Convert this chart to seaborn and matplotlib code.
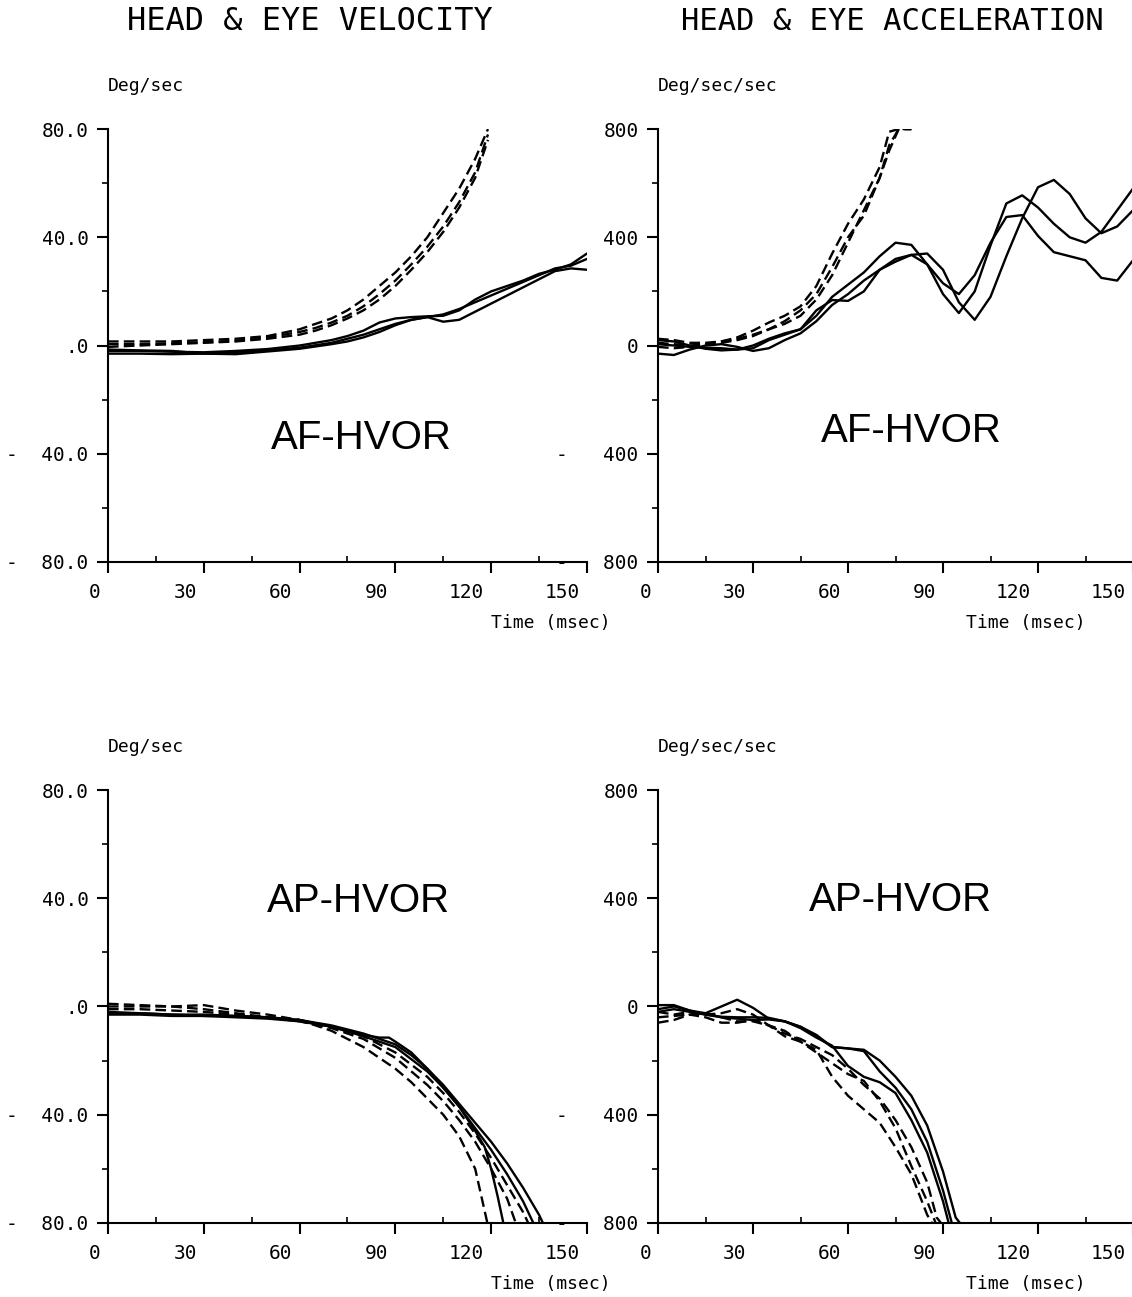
import numpy as np
import pandas as pd
import matplotlib
matplotlib.use("Agg")
import matplotlib.pyplot as plt
import matplotlib.transforms as mtransforms
from matplotlib.ticker import MultipleLocator
import seaborn as sns

# --- data (time in msec) ---
# AF-HVOR velocity (deg/sec)
af_vel_t = [0, 10, 20, 30, 40, 50, 60, 70, 75, 80, 85, 90, 95, 100, 105, 110, 115, 120, 125, 130, 135, 140, 145, 150]
af_vel_s1 = [-2.0, -2.0, -2.3, -2.5, -2.0, -1.3, 0.0, 2.0, 3.5, 5.5, 8.5, 10.0, 10.5, 10.8, 11.0, 13.0, 17.0, 20.0, 22.0, 24.0, 26.5, 28.0, 30.0, 34.0]
af_vel_s2 = [-3.0, -3.0, -3.2, -3.0, -2.6, -1.8, -0.8, 1.0, 2.5, 4.0, 6.0, 8.0, 9.5, 10.5, 11.5, 13.5, 16.0, 18.5, 21.0, 23.5, 26.0, 28.5, 29.5, 32.0]
af_vel_s3 = [-1.5, -1.8, -2.0, -3.0, -3.2, -2.2, -1.2, 0.5, 1.5, 3.0, 5.0, 7.5, 9.5, 10.5, 8.8, 9.5, 12.5, 15.5, 18.5, 21.5, 24.5, 27.5, 28.5, 28.0]
af_vel_dt = [0, 10, 20, 30, 40, 50, 60, 65, 70, 75, 80, 85, 90, 95, 100, 105, 110, 115, 119]
af_vel_d1 = [1.5, 1.5, 1.5, 2.0, 2.5, 3.5, 6.0, 8.0, 10.0, 13.0, 17.0, 22.0, 27.0, 33.0, 40.0, 49.0, 58.0, 69.0, 80.0]
af_vel_d2 = [0.5, 0.5, 0.8, 1.2, 1.8, 3.0, 5.0, 6.5, 8.5, 11.0, 14.5, 19.0, 24.0, 30.0, 36.5, 44.0, 53.0, 64.0, 78.0]
af_vel_d3 = [-0.5, 0.0, 0.5, 1.0, 1.5, 2.5, 4.0, 5.5, 7.5, 10.0, 13.0, 17.0, 22.0, 28.0, 34.5, 42.0, 51.0, 62.0, 76.0]

# AF-HVOR acceleration (deg/sec/sec)
af_acc_t = [0, 5, 10, 15, 20, 25, 30, 35, 40, 45, 50, 55, 60, 65, 70, 75, 80, 85, 90, 95, 100, 105, 110, 115, 120, 125, 130, 135, 140, 145, 150]
af_acc_s1 = [20, 15, 0, -12, -18, -15, 0, 25, 45, 60, 110, 180, 225, 270, 330, 380, 372, 300, 190, 120, 200, 370, 525, 555, 510, 450, 400, 380, 420, 500, 580]
af_acc_s2 = [-30, -35, -15, 0, 5, -5, -20, -10, 20, 45, 90, 150, 190, 240, 280, 310, 335, 340, 280, 160, 95, 180, 330, 470, 585, 612, 560, 470, 415, 440, 500]
af_acc_s3 = [5, 0, -5, -8, -10, -15, -10, 20, 40, 60, 130, 168, 165, 200, 280, 320, 335, 300, 230, 190, 260, 380, 475, 482, 405, 345, 330, 315, 250, 240, 315]
af_acc_dt = [0, 5, 10, 15, 20, 25, 30, 35, 40, 45, 50, 55, 60, 65, 70, 73, 76, 80]
af_acc_d1 = [10, 5, 0, 5, 15, 30, 55, 85, 110, 145, 220, 340, 450, 540, 660, 790, 800, 800]
af_acc_d2 = [-5, -10, -5, 5, 10, 20, 35, 60, 90, 130, 190, 290, 400, 480, 620, 720, 800, 800]
af_acc_d3 = [25, 20, 10, 10, 15, 25, 40, 60, 80, 110, 170, 260, 380, 500, 620, 740, 800, 800]

# AP-HVOR velocity (deg/sec)
ap_vel_t1 = [0, 10, 20, 30, 40, 50, 60, 70, 80, 85, 90, 95, 100, 105, 110, 115, 120, 125, 130, 135, 137]
ap_vel_s1 = [-2.5, -2.5, -3.0, -3.5, -3.5, -4.0, -5.0, -7.0, -10.0, -12.0, -14.0, -18.0, -23.0, -29.0, -36.0, -43.0, -50.0, -58.0, -67.0, -77.0, -82.0]
ap_vel_t2 = [0, 10, 20, 30, 40, 50, 60, 70, 80, 85, 88, 90, 95, 100, 105, 110, 115, 120, 125, 130, 134]
ap_vel_s2 = [-3.0, -3.0, -3.5, -3.5, -4.0, -4.5, -5.5, -7.5, -10.5, -11.5, -11.5, -13.0, -17.0, -23.0, -30.0, -37.0, -45.0, -53.0, -62.0, -72.0, -82.0]
ap_vel_t3 = [0, 10, 20, 30, 40, 50, 60, 70, 80, 90, 100, 105, 110, 115, 118, 120, 122, 124]
ap_vel_s3 = [-2.0, -2.5, -3.0, -3.0, -3.5, -4.0, -5.0, -7.5, -11.0, -15.0, -24.0, -30.0, -37.0, -46.0, -52.0, -60.0, -70.0, -81.0]
ap_vel_dt1 = [0, 10, 20, 30, 40, 50, 60, 70, 80, 85, 90, 95, 100, 105, 110, 115, 119]
ap_vel_d1 = [1.0, 0.5, 0.0, 0.5, -1.5, -3.0, -5.0, -9.0, -15.0, -19.0, -23.0, -28.0, -34.0, -40.0, -48.0, -60.0, -81.0]
ap_vel_dt2 = [0, 10, 20, 30, 40, 50, 60, 70, 80, 90, 95, 100, 105, 110, 115, 120, 125, 128]
ap_vel_d2 = [-1.0, -1.0, -1.5, -2.0, -3.0, -4.0, -5.5, -8.0, -12.0, -19.0, -24.0, -29.0, -35.0, -42.0, -50.0, -60.0, -71.0, -81.0]
ap_vel_dt3 = [0, 10, 20, 30, 40, 50, 60, 70, 80, 90, 100, 105, 110, 115, 120, 125, 130, 132]
ap_vel_d3 = [0.0, 0.0, 0.0, -1.0, -2.5, -4.0, -5.0, -7.5, -11.0, -17.0, -26.0, -32.0, -39.0, -47.0, -56.0, -66.0, -76.0, -81.0]

# AP-HVOR acceleration (deg/sec/sec)
ap_acc_ta = [0, 5, 10, 15, 20, 25, 30, 35, 40, 45, 50, 55, 60, 65, 70, 75, 80, 85, 90, 94, 96]
ap_acc_sa = [-10, 0, -15, -25, 0, 25, -5, -45, -55, -75, -110, -150, -155, -160, -200, -260, -330, -440, -610, -780, -810]
ap_acc_tb = [0, 5, 10, 15, 20, 25, 30, 35, 40, 45, 50, 55, 60, 65, 70, 75, 80, 85, 90, 92]
ap_acc_sb = [5, 5, -15, -30, -40, -45, -50, -48, -55, -80, -115, -145, -220, -260, -280, -320, -420, -540, -720, -810]
ap_acc_tc = [0, 5, 10, 15, 20, 25, 30, 35, 40, 45, 50, 55, 60, 65, 70, 75, 80, 85, 90, 93]
ap_acc_sc = [-20, -10, -20, -30, -38, -40, -40, -42, -55, -75, -105, -150, -155, -165, -240, -300, -380, -500, -680, -810]
ap_acc_dta = [0, 10, 15, 20, 25, 30, 35, 40, 45, 50, 55, 60, 65, 70, 75, 80, 85, 88, 90]
ap_acc_da = [-40, -30, -25, -40, -55, -55, -70, -100, -120, -150, -180, -230, -290, -340, -420, -520, -650, -780, -810]
ap_acc_dtb = [0, 5, 10, 15, 20, 25, 30, 35, 40, 45, 50, 55, 60, 65, 70, 75, 80, 85, 87]
ap_acc_db = [-20, -30, -20, -30, -25, -10, -30, -70, -110, -130, -160, -260, -330, -380, -430, -520, -620, -770, -810]
ap_acc_dtc = [0, 5, 10, 15, 20, 25, 30, 35, 40, 45, 50, 55, 60, 65, 70, 75, 80, 85, 88]
ap_acc_dc = [-60, -50, -30, -40, -60, -60, -50, -70, -90, -130, -170, -210, -250, -275, -350, -450, -590, -720, -810]

time_ticks = [0, 30, 60, 90, 120, 150]
vel_ticks = [-80, -40, 0, 40, 80]
vel_labels = ["-  80.0", "-  40.0", ".0", "40.0", "80.0"]
acc_ticks = [-800, -400, 0, 400, 800]
acc_labels = ["-   800", "-   400", "0", "400", "800"]

# --- figure ---
sns.set_style("ticks")
plt.rcParams["font.family"] = ["DejaVu Sans Mono"]
plt.rcParams.update({"text.color": "black", "xtick.color": "black", "ytick.color": "black",
                     "axes.edgecolor": "black", "axes.labelcolor": "black"})
fig = plt.figure(figsize=(11.32, 12.97), dpi=100)

W = 0.4231
H = 0.3338
panels = {
    "af_vel": fig.add_axes([0.0954, 0.5667, W, H]),
    "af_acc": fig.add_axes([0.5813, 0.5667, 0.4196, H]),
    "ap_vel": fig.add_axes([0.0954, 0.0571, W, H]),
    "ap_acc": fig.add_axes([0.5813, 0.0571, 0.4196, H]),
}

series = {
    "af_vel": [(af_vel_t, af_vel_s1, "-"), (af_vel_t, af_vel_s2, "-"), (af_vel_t, af_vel_s3, "-"),
               (af_vel_dt, af_vel_d1, "--"), (af_vel_dt, af_vel_d2, "--"), (af_vel_dt, af_vel_d3, "--")],
    "af_acc": [(af_acc_t, af_acc_s1, "-"), (af_acc_t, af_acc_s2, "-"), (af_acc_t, af_acc_s3, "-"),
               (af_acc_dt, af_acc_d1, "--"), (af_acc_dt, af_acc_d2, "--"), (af_acc_dt, af_acc_d3, "--")],
    "ap_vel": [(ap_vel_t1, ap_vel_s1, "-"), (ap_vel_t2, ap_vel_s2, "-"), (ap_vel_t3, ap_vel_s3, "-"),
               (ap_vel_dt1, ap_vel_d1, "--"), (ap_vel_dt2, ap_vel_d2, "--"), (ap_vel_dt3, ap_vel_d3, "--")],
    "ap_acc": [(ap_acc_ta, ap_acc_sa, "-"), (ap_acc_tb, ap_acc_sb, "-"), (ap_acc_tc, ap_acc_sc, "-"),
               (ap_acc_dta, ap_acc_da, "--"), (ap_acc_dtb, ap_acc_db, "--"), (ap_acc_dtc, ap_acc_dc, "--")],
}

for key, ax in panels.items():
    for t, y, ls in series[key]:
        sns.lineplot(x=t, y=y, ax=ax, color="black", lw=1.7, sort=False)
        line = ax.lines[-1]
        line.set_solid_joinstyle("round")
        if ls == "--":
            line.set_dashes((4.5, 2.2))

# plotter-style x labels: right-aligned just left of their tick
shift = mtransforms.ScaledTranslation(-0.07, 0, fig.dpi_scale_trans)

def style_axis(ax, lim, ticks, labels, minor, unit, time_x):
    ax.set_xlim(0, 150)
    ax.set_ylim(-lim, lim)
    ax.set_xticks(time_ticks)
    ax.set_xticklabels([str(v) for v in time_ticks])
    ax.xaxis.set_minor_locator(MultipleLocator(15))
    ax.set_yticks(ticks)
    ax.set_yticklabels(labels)
    ax.yaxis.set_minor_locator(MultipleLocator(minor))
    sns.despine(ax=ax)
    for s in ["left", "bottom"]:
        ax.spines[s].set_linewidth(1.5)
    ax.tick_params(which="major", direction="out", length=8, width=1.5, labelsize=14, color="black")
    ax.tick_params(axis="x", which="major", pad=7)
    ax.tick_params(axis="y", which="major", pad=6)
    ax.tick_params(axis="x", which="minor", direction="in", length=4, width=1.2)
    ax.tick_params(axis="y", which="minor", direction="out", length=4, width=1.2)
    for lab in ax.get_xticklabels():
        lab.set_horizontalalignment("right")
        lab.set_transform(lab.get_transform() + shift)
    ax.set_xlabel("")
    ax.set_ylabel("")
    ax.text(0.0, 1.10, unit, transform=ax.transAxes, fontsize=13, ha="left", va="center")
    ax.text(time_x, -0.14, "Time (msec)", transform=ax.transAxes, fontsize=13, ha="center", va="center")

style_axis(panels["af_vel"], 80, vel_ticks, vel_labels, 20, "Deg/sec", 0.925)
style_axis(panels["af_acc"], 800, acc_ticks, acc_labels, 200, "Deg/sec/sec", 0.775)
style_axis(panels["ap_vel"], 80, vel_ticks, vel_labels, 20, "Deg/sec", 0.925)
style_axis(panels["ap_acc"], 800, acc_ticks, acc_labels, 200, "Deg/sec/sec", 0.775)

big = dict(fontsize=29, family=["Liberation Sans", "DejaVu Sans"], ha="center", va="center", color="black")
panels["af_vel"].text(79.5, -34, "AF-HVOR", **big)
panels["af_acc"].text(80, -315, "AF-HVOR", **big)
panels["ap_vel"].text(78.5, 39, "AP-HVOR", **big)
panels["ap_acc"].text(76.7, 392, "AP-HVOR", **big)

fig.text(310 / 1132, 1 - 22 / 1297, "HEAD & EYE VELOCITY", fontsize=23, ha="center", va="center")
fig.text(892 / 1132, 1 - 22 / 1297, "HEAD & EYE ACCELERATION", fontsize=22, ha="center", va="center")

fig.savefig("out.png", dpi=100)
